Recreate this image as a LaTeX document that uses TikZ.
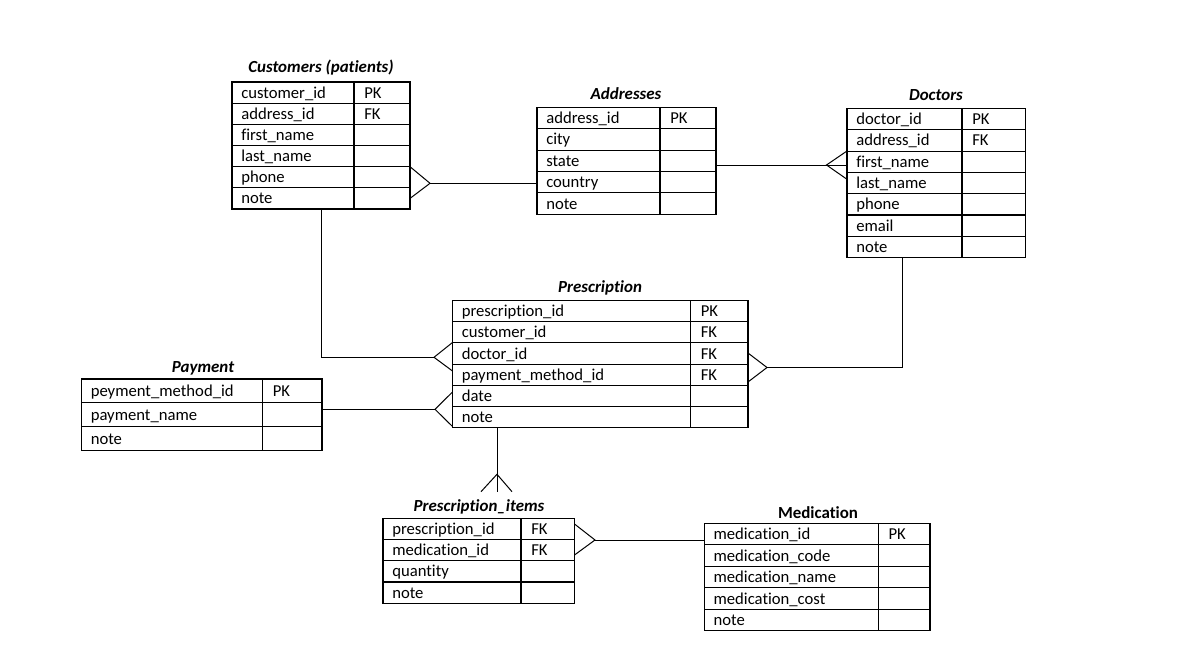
\documentclass[tikz,border=0pt]{standalone}
\usepackage{fontspec}
\setmainfont{Carlito}[Ligatures=NoCommon]
\usetikzlibrary{calc}
\tikzset{
  cell/.style={draw, line width=0.85pt, anchor=north west, inner sep=0pt, outer sep=0pt},
  celltext/.style={anchor=base west, inner sep=0pt, font=\fontsize{12.5}{14}\selectfont},
  tabtitle/.style={anchor=base, inner sep=0pt, font=\fontsize{12.7}{14}\selectfont\bfseries\itshape},
  link/.style={line width=0.75pt},
}
\newcommand\ertable[7]{%
  \foreach \f/\k [count=\i] in {#7} {
    \pgfmathsetmacro\yy{#3+(\i-1)*#6}
    \node[cell, minimum width={(#4-#2)*0.75pt}, minimum height={#6*0.75pt}] (#1-\i) at (#2,\yy) {};
    \node[cell, minimum width={(#5-#4)*0.75pt}, minimum height={#6*0.75pt}] (#1-\i k) at (#4,\yy) {};
    \node[celltext] (#1-\i t) at ($(#1-\i.west)+(9,5.5)$) {\f};
    \node[celltext] (#1-\i kt) at ($(#1-\i k.west)+(10,5.5)$) {\k};
  }}
\begin{document}
\begin{tikzpicture}[x=0.75pt,y=-0.75pt]
\useasboundingbox (0,0) rectangle (1200,667);

% titles
\node[tabtitle] (custT) at (321,73) {Customers (patients)};
\node[tabtitle] (addrT) at (626,99) {Addresses};
\node[tabtitle] (docT) at (936,101) {Doctors};
\node[tabtitle] (prescT) at (600,292) {Prescription};
\node[tabtitle] (payT) at (203,372) {Payment};
\node[tabtitle] (piT) at (479,511) {Prescription\_items};
\node[tabtitle, font=\fontsize{12.7}{14}\selectfont\bfseries] (medT) at (818,518) {Medication};

% tables
\ertable{cust}{232}{82}{354}{410}{21.17}{customer\_id/PK, address\_id/FK, first\_name/{}, last\_name/{}, phone/{}, note/{}}
\ertable{addr}{537}{107.3}{660}{716}{21.4}{address\_id/PK, city/{}, state/{}, country/{}, note/{}}
\ertable{doc}{847}{108.5}{962}{1025.5}{21.3}{doctor\_id/PK, address\_id/FK, first\_name/{}, last\_name/{}, phone/{}, email/{}, note/{}}
\ertable{presc}{452.5}{300.5}{690.5}{748}{21.2}{prescription\_id/PK, customer\_id/FK, doctor\_id/FK, payment\_method\_id/FK, date/{}, note/{}}
\ertable{pay}{81.5}{379}{262.5}{322}{23.9}{peyment\_method\_id/PK, payment\_name/{}, note/{}}
\ertable{pi}{383}{518.3}{521}{574.5}{21.25}{prescription\_id/FK, medication\_id/FK, quantity/{}, note/{}}
\ertable{med}{704.3}{523.3}{878.3}{930}{21.5}{medication\_id/PK, medication\_code/{}, medication\_name/{}, medication\_cost/{}, note/{}}

% Customers -- Addresses
\coordinate (j1) at (430,183.3);
\draw[link] (cust-5k.north east) -- (j1) -- (cust-6k.east);
\draw[link] (j1) -- (j1 -| addr-4.west);

% Addresses -- Doctors
\coordinate (j2) at (826.5,165);
\draw[link] (j2 -| addr-3k.east) -- (j2 -| doc-3.west);
\draw[link] (doc-3.west |- 0,151) -- (j2) -- (doc-3.west |- 0,179.3);

% Customers -- Prescription
\coordinate (b3) at (321,357.3);
\coordinate (j3) at (434,357.3);
\draw[link] (cust-6.south -| b3) -- (b3) -- (j3);
\draw[link] (presc-3.west |- 0,342.5) -- (j3) -- (presc-3.west |- 0,371);

% Doctors -- Prescription
\coordinate (b4) at (902.5,367.5);
\coordinate (j4) at (767,367.5);
\draw[link] (doc-7.south -| b4) -- (b4) -- (j4);
\draw[link] (presc-3k.east |- 0,353) -- (j4) -- (presc-3k.east |- 0,382);

% Payment -- Prescription
\coordinate (j5) at (435,409.3);
\draw[link] (j5 -| pay-2k.east) -- (j5);
\draw[link] (presc-5.west |- 0,392) -- (j5) -- (presc-5.west |- 0,426.5);

% Prescription -- Prescription_items
\coordinate (j6) at (497,474.3);
\coordinate (e6) at (497,491.7);
\draw[link] (presc-6.south -| j6) -- (e6);
\draw[link] ($(j6)+(-16,17.4)$) -- (j6) -- ($(j6)+(15,17.4)$);

% Prescription_items -- Medication
\coordinate (j7) at (595,540);
\draw[link] (pi-1k.east |- 0,524) -- (j7) -- (pi-2k.east |- 0,555);
\draw[link] (j7) -- (j7 -| med-1.west);
\end{tikzpicture}
\end{document}
